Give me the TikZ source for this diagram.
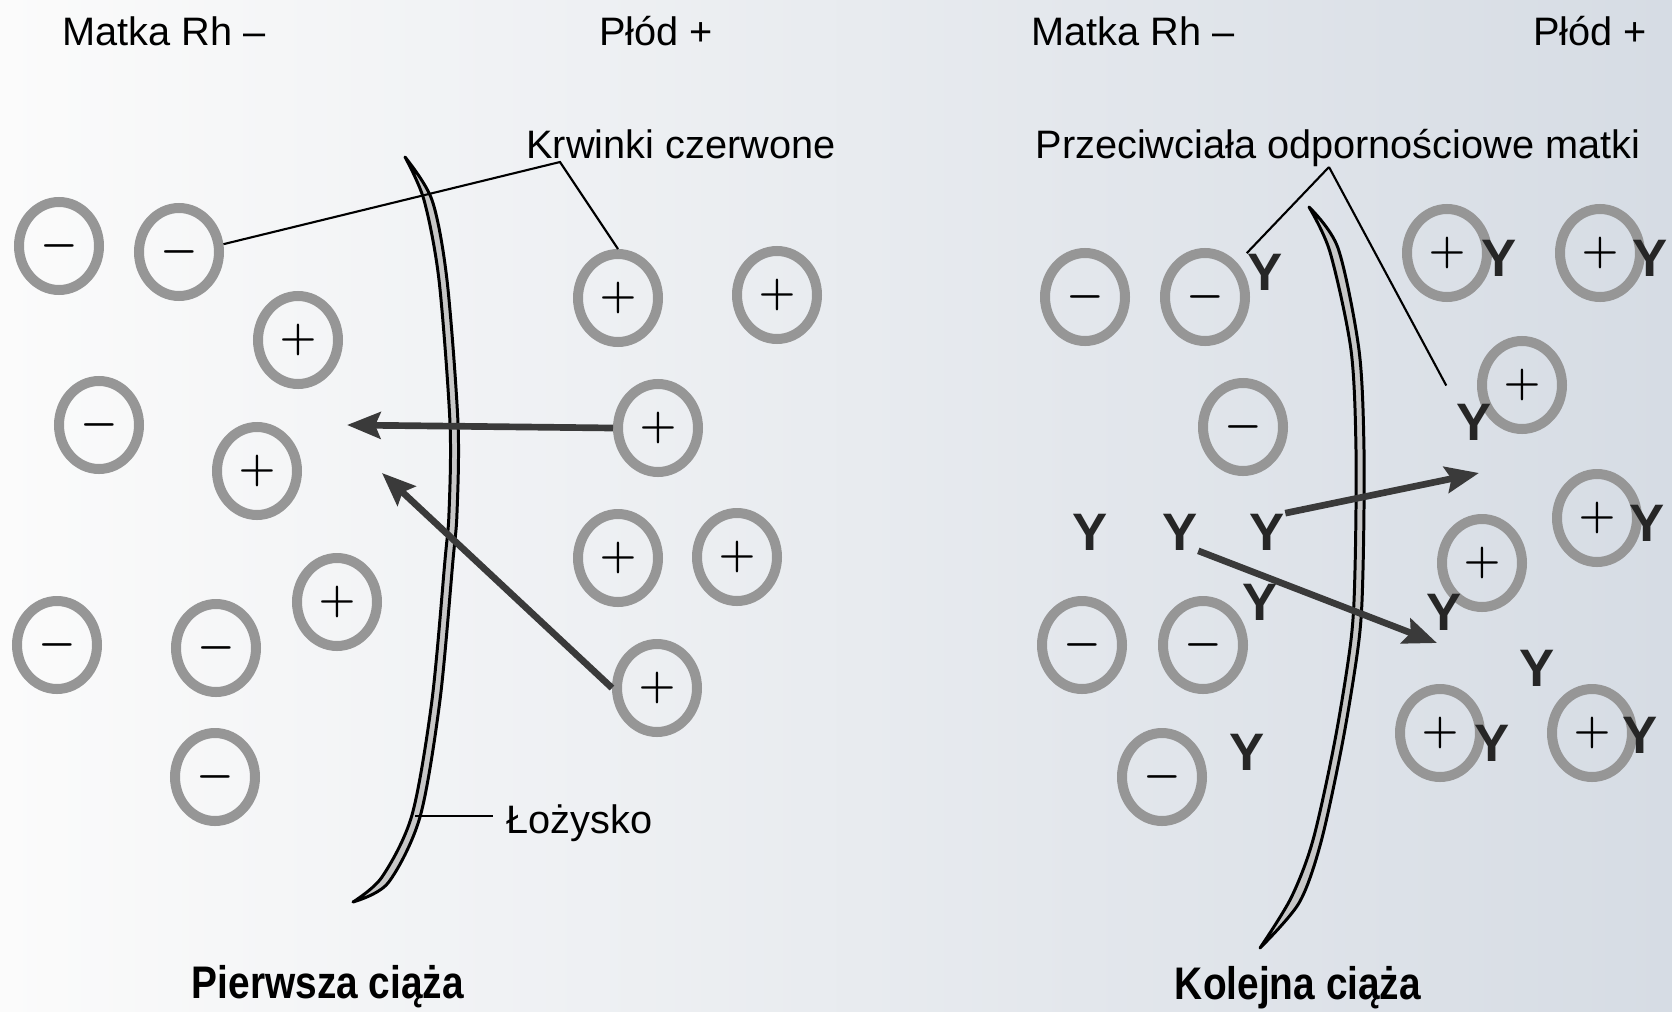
\documentclass[tikz,border=0pt]{standalone}
\usepackage{fontspec}
\setmainfont{Liberation Sans}
\newfontfamily\waski[FakeStretch=0.85]{Liberation Sans}
\usetikzlibrary{arrows.meta,shapes.geometric}

\definecolor{tloL}{RGB}{251,251,251}
\definecolor{tloS}{RGB}{242,244,246}
\definecolor{tloP}{RGB}{214,220,228}
\definecolor{pierscien}{RGB}{150,150,150}
\definecolor{grot}{RGB}{58,58,58}

\begin{document}
\begin{tikzpicture}[x=0.1mm, y=-0.1mm,
        opis/.style={font=\fontsize{11.3}{13}\selectfont, anchor=base, inner sep=0pt},
        tytul/.style={font=\fontsize{13}{15}\selectfont\waski\bfseries, anchor=base, inner sep=0pt},
        krwinka/.style={ellipse, draw=pierscien, line width=1mm, minimum width=8mm, minimum height=8.8mm, inner sep=0pt, font=\fontsize{13}{13}\selectfont\boldmath},
        przeciwcialo/.style={font=\fontsize{15}{15}\selectfont\bfseries, text=black!85, inner sep=0pt},
        odnosnik/.style={line width=0.6pt},
        strzalka/.style={-{Stealth[length=9.5pt,width=7.5pt,inset=1.5pt]}, line width=1.9pt, draw=grot},
        lozysko/.style={line width=0.85pt, fill=black!22, line join=round}
    ]
        \shade[left color=tloL, middle color=tloS, right color=tloP] (0,0) rectangle (1672,1012);

        % lozysko: pierwsza i kolejna ciaza
        \draw[lozysko] plot[smooth] coordinates {(405,157) (424,200) (439,280) (450,423) (449,513) (445,560) (432,700) (412,815) (382,877) (353,902)}
            -- plot[smooth] coordinates {(353,902) (388,883) (420,817) (440,700) (453,560) (457,513) (458,423) (447,280) (432,200) (405,157)} -- cycle;
        \draw[lozysko] plot[smooth] coordinates {(1309,207) (1330,252) (1351,350) (1356,450) (1355,570) (1351,640) (1335,740) (1313,840) (1291,898) (1260,948)}
            -- plot[smooth] coordinates {(1260,948) (1299,903) (1321,842) (1343,740) (1359,640) (1363,570) (1364,450) (1359,350) (1338,248) (1309,207)} -- cycle;

        \node[opis] (matka1) at (164,45) {Matka Rh –};
        \node[opis] (plod1) at (656,45) {Płód +};
        \node[opis] (krw) at (681,158) {Krwinki czerwone};
        \node[opis, anchor=base west] (loz) at (506,833) {Łożysko};
        \node[tytul] (ciaza1) at (328,998) {Pierwsza ciąża};

        \node[opis] (matka2) at (1133,45) {Matka Rh –};
        \node[opis] (plod2) at (1590,45) {Płód +};
        \node[opis] (przec) at (1338,158) {Przeciwciała odpornościowe matki};
        \node[tytul] (ciaza2) at (1298,999) {Kolejna ciąża};

        % krwinki matki i plodu
        \node[krwinka] (m1) at (59,246) {$-$};
        \node[krwinka] (m2) at (179,252) {$-$};
        \node[krwinka] (m3) at (99,425) {$-$};
        \node[krwinka] (m4) at (57,645) {$-$};
        \node[krwinka] (m5) at (216,648) {$-$};
        \node[krwinka] (m6) at (215,777) {$-$};
        \node[krwinka] (c1) at (298,340) {$+$};
        \node[krwinka] (c2) at (257,471) {$+$};
        \node[krwinka] (c3) at (337,602) {$+$};

        \node[krwinka] (p1) at (618,298) {$+$};
        \node[krwinka] (p2) at (777,295) {$+$};
        \node[krwinka] (p3) at (658,428) {$+$};
        \node[krwinka] (p4) at (618,558) {$+$};
        \node[krwinka] (p5) at (737,557) {$+$};
        \node[krwinka] (p6) at (657,688) {$+$};

        \node[krwinka] (r1) at (1085,297) {$-$};
        \node[krwinka] (r2) at (1205,297) {$-$};
        \node[krwinka] (r3) at (1243,427) {$-$};
        \node[krwinka] (r4) at (1082,645) {$-$};
        \node[krwinka] (r5) at (1203,645) {$-$};
        \node[krwinka] (r6) at (1162,777) {$-$};

        \node[krwinka] (s1) at (1447,253) {$+$};
        \node[krwinka] (s2) at (1600,253) {$+$};
        \node[krwinka] (s3) at (1522,385) {$+$};
        \node[krwinka] (s4) at (1597,518) {$+$};
        \node[krwinka] (s5) at (1482,563) {$+$};
        \node[krwinka] (s6) at (1440,733) {$+$};
        \node[krwinka] (s7) at (1592,733) {$+$};

        % przeciwciala
        \node[przeciwcialo] (yA) at (1265,272) {Y};
        \node[przeciwcialo] (yB) at (1499,258) {Y};
        \node[przeciwcialo] (yC) at (1650,258) {Y};
        \node[przeciwcialo] (yD) at (1474,422) {Y};
        \node[przeciwcialo] (yE) at (1090,532) {Y};
        \node[przeciwcialo] (yF) at (1180,532) {Y};
        \node[przeciwcialo] (yG) at (1267,532) {Y};
        \node[przeciwcialo] (yH) at (1647,523) {Y};
        \node[przeciwcialo] (yI) at (1260,602) {Y};
        \node[przeciwcialo] (yJ) at (1444,612) {Y};
        \node[przeciwcialo] (yK) at (1537,668) {Y};
        \node[przeciwcialo] (yL) at (1247,752) {Y};
        \node[przeciwcialo] (yM) at (1492,743) {Y};
        \node[przeciwcialo] (yN) at (1640,735) {Y};

        \coordinate (kk) at (560,162);
        \coordinate (kp) at (1329,167);
        \coordinate (lk) at (415,816);
        \coordinate (cel1) at (347,425);
        \coordinate (cel2) at (382,473);
        \coordinate (cel3) at (1479,473);
        \coordinate (cel4) at (1437,643);

        \draw[odnosnik] (m2.10) -- (kk) -- (p1.north);
        \draw[odnosnik] (yA.north west) -- (kp);
        \draw[odnosnik, shorten >=2mm] (kp) -- (yD.north west);
        \draw[odnosnik, shorten >=1.3mm] (lk) -- (lk -| loz.west);

        \draw[strzalka] (p3.west) -- (cel1);
        \draw[strzalka] (p6.west) -- (cel2);
        \draw[strzalka] (yG.north east) -- (cel3);
        \draw[strzalka] (yF.south east) -- (cel4);
    \end{tikzpicture}
\end{document}
